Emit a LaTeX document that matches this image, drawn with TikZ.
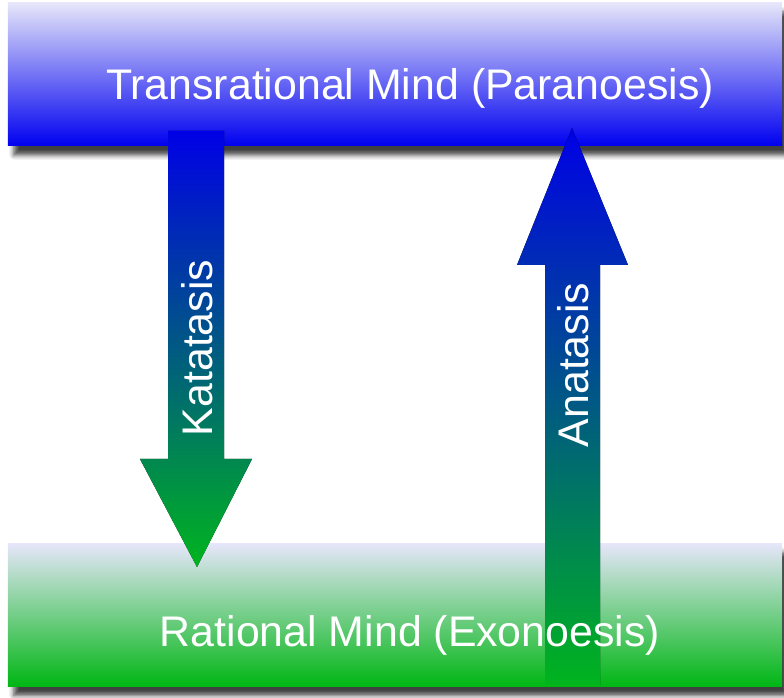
\documentclass[tikz,border=0pt]{standalone}
\usepackage{fontspec}
\setmainfont{Liberation Sans}
\usetikzlibrary{shadows.blur}
\definecolor{barblue}{RGB}{0,0,240}
\definecolor{barlav}{RGB}{230,230,250}
\definecolor{bargreen}{RGB}{0,182,20}
\definecolor{arrblue}{RGB}{0,0,230}
\definecolor{arrgreen}{RGB}{0,180,30}
\begin{document}
\begin{tikzpicture}[x=1bp, y=1bp,
    bar/.style={inner sep=0pt, minimum width=774bp, minimum height=143bp,
        blur shadow={shadow xshift=6bp, shadow yshift=-9bp, shadow opacity=75, shadow blur radius=5bp}},
    txt/.style={text=white, font=\fontsize{43}{50}\selectfont, inner sep=0pt}]
    \useasboundingbox (0,0) rectangle (784,698);

    % Faixas (mente transracional e mente racional)
    \node[bar, top color=barlav, bottom color=barblue] (trans) at (395,623.5) {};
    \node[bar, top color=barlav, bottom color=bargreen] (rac) at (395,83) {};

    % Setas
    \fill[top color=arrblue, bottom color=arrgreen] (168,567) -- (224,567) -- (224,239) -- (252,239)
        -- (197,131) -- (140,239) -- (168,239) -- cycle; % Katatasis (descendo)
    \fill[top color=arrblue, bottom color=arrgreen] (545,13) -- (600,13) -- (600,433) -- (628,433)
        -- (572,570) -- (517,433) -- (545,433) -- cycle; % Anatasis (subindo)

    % Textos
    \node[txt, anchor=base] (transtxt) at (410,598) {Transrational Mind (Paranoesis)};
    \node[txt, anchor=base] (ractxt) at (410,51) {Rational Mind (Exonoesis)};
    \node[txt, rotate=90, anchor=base] (kat) at (212,350) {Katatasis};
    \node[txt, rotate=90, anchor=base] (ana) at (588,333) {Anatasis};
\end{tikzpicture}
\end{document}
